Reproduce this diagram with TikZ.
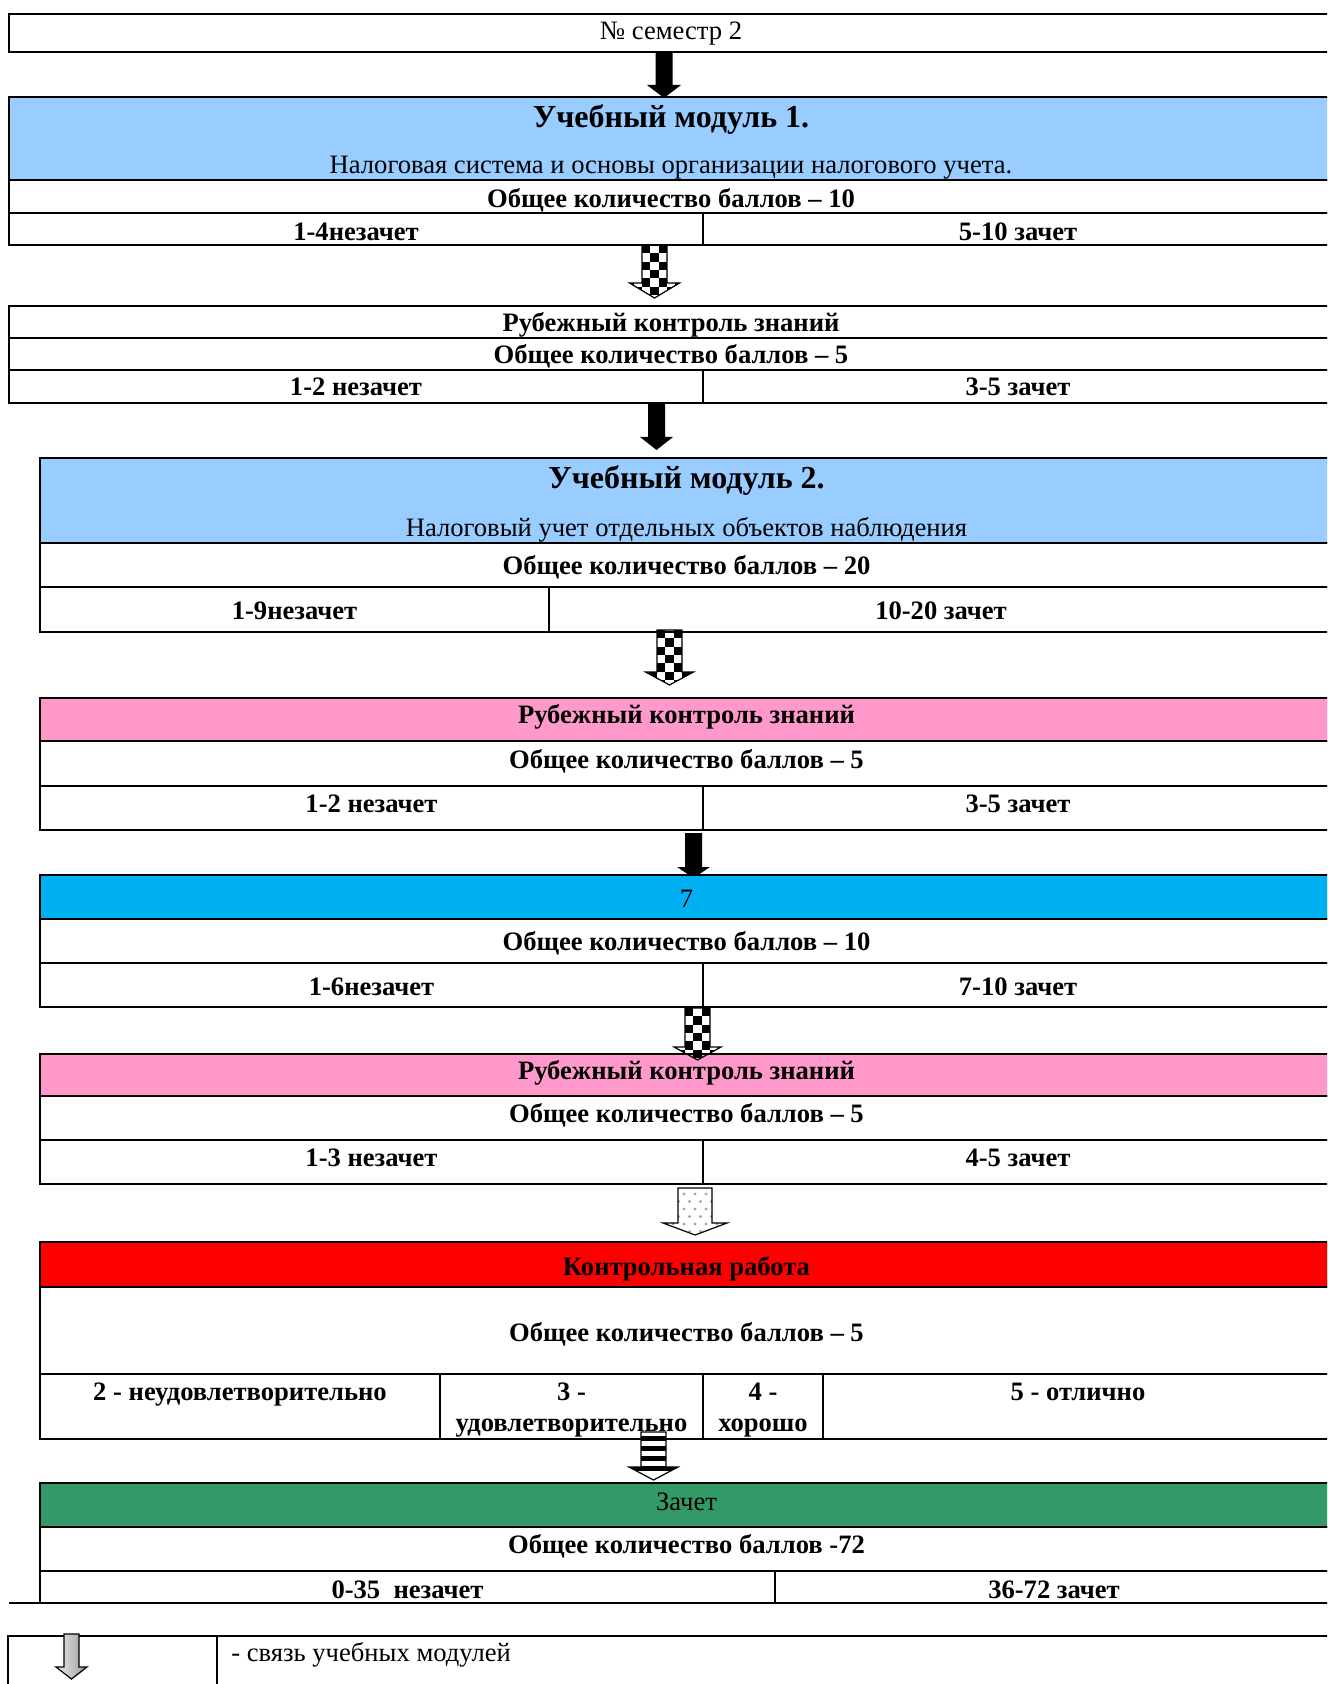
\documentclass[tikz,border=0pt]{standalone}
\usepackage{fontspec}
\setmainfont{Liberation Serif}
\definecolor{modblue}{HTML}{99CCFF}
\definecolor{ctrlpink}{HTML}{FF99CC}
\definecolor{skyblue}{HTML}{00B0F0}
\definecolor{workred}{HTML}{FF0000}
\definecolor{passgreen}{HTML}{339966}
% block arrow: x, top, head start, tip, half shaft, half head
\newcommand{\arrowpath}[6]{(#1-#5,#2) -- (#1+#5,#2) -- (#1+#5,#3) -- (#1+#6,#3) -- (#1,#4) -- (#1-#6,#3) -- (#1-#5,#3) -- cycle}
\newcommand{\solidarrow}[6]{\fill \arrowpath{#1}{#2}{#3}{#4}{#5}{#6};}
\newcommand{\checkarrow}[6]{%
  \begin{scope}
    \clip \arrowpath{#1}{#2}{#3}{#4}{#5}{#6};
    \pgfmathsetmacro\sq{2*#5/3}
    \foreach \i in {0,...,8}{\foreach \j in {-3,...,5}{
      \pgfmathtruncatemacro\chk{mod(\i+\j+10,2)}
      \ifnum\chk=0 \fill (#1-#5+\j*\sq,#2+\i*\sq) rectangle ++(\sq,\sq);\fi}}
  \end{scope}
  \draw[arrowline] \arrowpath{#1}{#2}{#3}{#4}{#5}{#6};}
\newcommand{\dotarrow}[6]{%
  \begin{scope}
    \clip \arrowpath{#1}{#2}{#3}{#4}{#5}{#6};
    \foreach \i in {0,...,5}{\foreach \j in {-3,...,3}{
      \pgfmathsetmacro\dx{#1+\j*11+mod(\i,2)*5.5}
      \fill[gray!70] (\dx,#2+6+\i*7.5) circle (1.6);}}
  \end{scope}
  \draw[arrowline] \arrowpath{#1}{#2}{#3}{#4}{#5}{#6};}
\newcommand{\stripearrow}[6]{%
  \begin{scope}
    \clip \arrowpath{#1}{#2}{#3}{#4}{#5}{#6};
    \foreach \k in {0,...,3}\fill (#1-#6,#2+4+\k*10) rectangle ++(2*#6,4.5);
  \end{scope}
  \draw[arrowline] \arrowpath{#1}{#2}{#3}{#4}{#5}{#6};}
\tikzset{
  cell/.style={draw,line width=1pt},
  split/.style={draw,line width=0.6pt},
  arrowline/.style={draw,line width=0.6pt},
  txt/.style={inner sep=0pt,yshift=-1.25pt,font=\fontsize{13.3}{15.5}\selectfont},
  bf/.style={inner sep=0pt,yshift=-1.25pt,font=\bfseries\fontsize{13.3}{15.5}\selectfont},
  ttl/.style={inner sep=0pt,yshift=-1.25pt,font=\bfseries\fontsize{16}{19}\selectfont}
}
\begin{document}
\begin{tikzpicture}[x=0.5pt,y=-0.5pt]
	\useasboundingbox (0,0) rectangle (1327,1684);
	\clip (0,0) rectangle (1327,1684);
	% semester
	\draw[cell] (9,14) rectangle (1333,52);
	\node[txt] (sem) at (671,31) {№ семестр 2};
	\solidarrow{664}{52}{85}{98}{8.5}{17}
	% module 1
	\draw[cell,fill=modblue] (9,97) rectangle (1333,180);
	\draw[cell] (9,180) rectangle (1333,213);
	\draw[cell] (9,213) rectangle (1333,245);
	\draw[split] (703,213) -- (703,245);
	\node[ttl] (m1) at (671,117) {Учебный модуль 1.};
	\node[txt] (m1sub) at (671,165) {Налоговая система и основы организации налогового учета.};
	\node[bf] (m1sum) at (671,198) {Общее количество баллов – 10};
	\node[bf] (m1no) at (356,229) {1-4незачет};
	\node[bf] (m1yes) at (1018,229) {5-10 зачет};
	\checkarrow{654.5}{245}{283}{298}{12.5}{25}
	% control 1
	\draw[cell] (9,306) rectangle (1333,338);
	\draw[cell] (9,338) rectangle (1333,370);
	\draw[cell] (9,370) rectangle (1333,403);
	\draw[split] (703,370) -- (703,403);
	\node[bf] (c1) at (671,322) {Рубежный контроль знаний};
	\node[bf] (c1sum) at (671,354) {Общее количество баллов – 5};
	\node[bf] (c1no) at (356,384) {1-2 незачет};
	\node[bf] (c1yes) at (1018,384) {3-5 зачет};
	\solidarrow{656.5}{404}{437}{450}{8.5}{16.5}
	% module 2
	\draw[cell,fill=modblue] (40,458) rectangle (1333,543);
	\draw[cell] (40,543) rectangle (1333,587);
	\draw[cell] (40,587) rectangle (1333,632);
	\draw[split] (549,587) -- (549,632);
	\node[ttl] (m2) at (686.5,478) {Учебный модуль 2.};
	\node[txt] (m2sub) at (686.5,527) {Налоговый учет отдельных объектов наблюдения};
	\node[bf] (m2sum) at (686.5,565) {Общее количество баллов – 20};
	\node[bf] (m2no) at (294.5,608) {1-9незачет};
	\node[bf] (m2yes) at (941,608) {10-20 зачет};
	\checkarrow{669.5}{630}{672}{685}{12.5}{24}
	% control 2
	\draw[cell,fill=ctrlpink] (40,698) rectangle (1333,741);
	\draw[cell] (40,741) rectangle (1333,786);
	\draw[cell] (40,786) rectangle (1333,830);
	\draw[split] (703,786) -- (703,830);
	\node[bf] (c2) at (686.5,714) {Рубежный контроль знаний};
	\node[bf] (c2sum) at (686.5,759) {Общее количество баллов – 5};
	\node[bf] (c2no) at (371.5,801) {1-2 незачет};
	\node[bf] (c2yes) at (1018,801) {3-5 зачет};
	\solidarrow{693.5}{833}{867}{878}{8.5}{16.5}
	% module 7
	\draw[cell,fill=skyblue] (40,875) rectangle (1333,919);
	\draw[cell] (40,919) rectangle (1333,963);
	\draw[cell] (40,963) rectangle (1333,1007);
	\draw[split] (703,963) -- (703,1007);
	\node[txt] (m3) at (686.5,896) {7};
	\node[bf] (m3sum) at (686.5,941) {Общее количество баллов – 10};
	\node[bf] (m3no) at (371.5,984) {1-6незачет};
	\node[bf] (m3yes) at (1018,984) {7-10 зачет};
	% control 3
	\draw[cell,fill=ctrlpink] (40,1054) rectangle (1333,1096);
	\draw[cell] (40,1096) rectangle (1333,1140);
	\draw[cell] (40,1140) rectangle (1333,1184);
	\draw[split] (703,1140) -- (703,1184);
	\checkarrow{697.5}{1008}{1047}{1060}{12.5}{23.5}
	\node[bf] (c3) at (686.5,1070) {Рубежный контроль знаний};
	\node[bf] (c3sum) at (686.5,1113) {Общее количество баллов – 5};
	\node[bf] (c3no) at (371.5,1155) {1-3 незачет};
	\node[bf] (c3yes) at (1018,1155) {4-5 зачет};
	\dotarrow{695}{1188}{1223}{1235}{17}{32}
	% test work
	\draw[cell,fill=workred] (40,1242) rectangle (1333,1287);
	\draw[cell] (40,1287) rectangle (1333,1374);
	\draw[cell] (40,1374) rectangle (1333,1439);
	\foreach \x in {440,703,823}\draw[split] (\x,1374) -- (\x,1439);
	\node[bf] (kr) at (686.5,1266) {Контрольная работа};
	\node[bf] (krsum) at (686.5,1332) {Общее количество баллов – 5};
	\node[bf,anchor=north] (g2) at (240,1380) {2 - неудовлетворительно};
	\node[bf,anchor=north,align=center] (g3) at (571.5,1380) {3 -\\удовлетворительно};
	\node[bf,anchor=north,align=center] (g4) at (763,1380) {4 -\\хорошо};
	\node[bf,anchor=north] (g5) at (1078,1380) {5 - отлично};
	\stripearrow{653.5}{1432}{1467}{1480}{12.5}{24.5}
	% credit
	\draw[cell,fill=passgreen] (40,1483) rectangle (1333,1527);
	\draw[cell] (40,1527) rectangle (1333,1571);
	\draw[cell] (40,1603) -- (40,1571) -- (1333,1571);
	\draw[cell] (9,1603) -- (1333,1603);
	\draw[split] (775,1571) -- (775,1603);
	\node[txt] (zach) at (686.5,1499) {Зачет};
	\node[bf] (zsum) at (686.5,1544) {Общее количество баллов -72};
	\node[bf] (zno) at (407.5,1587) {0-35~~незачет};
	\node[bf] (zyes) at (1054,1587) {36-72 зачет};
	% legend
	\draw[cell] (8,1636) rectangle (1333,1700);
	\draw[cell] (217,1636) -- (217,1700);
	\shade[left color=gray!15,right color=gray!80] \arrowpath{71.5}{1634}{1667}{1679}{7.5}{15.5};
	\draw[arrowline] \arrowpath{71.5}{1634}{1667}{1679}{7.5}{15.5};
	\node[txt,anchor=west] (leg) at (231,1652) {- связь учебных модулей};
\end{tikzpicture}
\end{document}
